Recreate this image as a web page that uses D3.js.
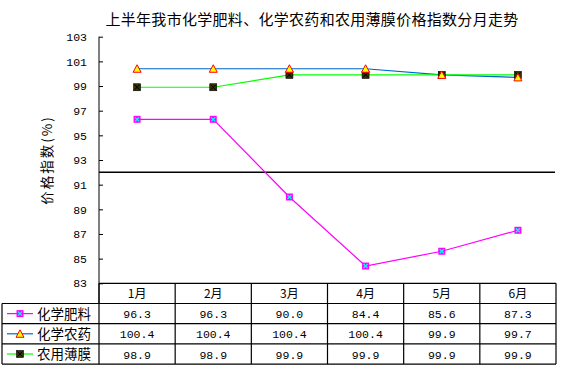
<!DOCTYPE html>
<html>
<head>
<meta charset="utf-8">
<script src="https://cdn.jsdelivr.net/npm/d3@7"></script>
<style>
  body { margin: 0; background: #fff; }
  svg { display: block; }
</style>
</head>
<body>
<svg class="svg"></svg>
<script>
const months = ['1月', '2月', '3月', '4月', '5月', '6月'];
const fertilizer = [96.3, 96.3, 90.0, 84.4, 85.6, 87.3];
const pesticide = [100.4, 100.4, 100.4, 100.4, 99.9, 99.7];
const film = [98.9, 98.9, 99.9, 99.9, 99.9, 99.9];
const seriesNames = ['化学肥料', '化学农药', '农用薄膜'];
const yTicks = [83, 85, 87, 89, 91, 93, 95, 97, 99, 101, 103];
const refValue = 92;

const chartW = 569;
const chartH = 372;
const cjk = '"Noto Sans CJK SC", sans-serif';
const num = '"Liberation Mono", "DejaVu Sans Mono", monospace';

const series = [
  { name: seriesNames[0], values: fertilizer, color: '#ff00ff', marker: 'square-x' },
  { name: seriesNames[1], values: pesticide, color: '#0066cc', marker: 'triangle' },
  { name: seriesNames[2], values: film, color: '#00ff00', marker: 'dark-square' }
];

const svg = d3.select('.svg').attr('width', chartW).attr('height', chartH);

const plotL = 99, plotR = 556, plotT = 36.7, plotB = 283.3;
const rowH = 20.2;
const tableTop = plotB;

const x = d3.scaleBand().domain(months).range([plotL, plotR]);
const y = d3.scaleLinear().domain([83, 103]).range([plotB, plotT]);

// title
svg.append('text')
  .attr('x', 312)
  .attr('y', 25)
  .attr('text-anchor', 'middle')
  .attr('font-family', cjk)
  .attr('font-size', 15)
  .attr('letter-spacing', 0.3)
  .attr('fill', '#000')
  .text('上半年我市化学肥料、化学农药和农用薄膜价格指数分月走势');

// y label
svg.append('text')
  .attr('transform', `translate(52,${(plotT + plotB) / 2}) rotate(-90)`)
  .attr('text-anchor', 'middle')
  .attr('font-family', cjk)
  .attr('font-size', 13.5)
  .attr('letter-spacing', 2)
  .text('价格指数(%)');

// y axis
const yAxis = d3.axisLeft(y).tickValues(yTicks).tickSize(-4).tickPadding(12).tickFormat(d3.format('d'));
const yg = svg.append('g').attr('transform', `translate(${plotL},0)`).call(yAxis);
yg.select('.domain').remove();
yg.selectAll('line').attr('stroke', '#000');
yg.selectAll('text').attr('font-family', num).attr('font-size', 11.5).attr('fill', '#000');

svg.append('line')
  .attr('x1', plotL).attr('x2', plotL)
  .attr('y1', plotT).attr('y2', tableTop + rowH)
  .attr('stroke', '#000');

// reference line
svg.append('line')
  .attr('x1', plotL).attr('x2', plotR - 1)
  .attr('y1', y(refValue)).attr('y2', y(refValue))
  .attr('stroke', '#000').attr('stroke-width', 1.5);

// lines
const line = d3.line()
  .x((d, i) => x(months[i]) + x.bandwidth() / 2)
  .y(d => y(d));

svg.append('g')
  .selectAll('path')
  .data(series)
  .join('path')
  .attr('d', d => line(d.values))
  .attr('fill', 'none')
  .attr('stroke', d => d.color)
  .attr('stroke-width', 1.2);

function drawMarker(g, type) {
  if (type === 'square-x') {
    g.append('rect').attr('x', -3.5).attr('y', -3.5).attr('width', 7).attr('height', 7)
      .attr('fill', '#ff00ff');
    g.append('path').attr('d', 'M-2,-2L2,2M2,-2L-2,2').attr('stroke', '#00ffff').attr('stroke-width', 1.2);
  } else if (type === 'triangle') {
    g.append('path').attr('d', 'M0,-4L4,3.5L-4,3.5Z')
      .attr('fill', '#ffff00').attr('stroke', '#ff0000').attr('stroke-width', 1);
  } else {
    g.append('rect').attr('x', -3.5).attr('y', -3.5).attr('width', 7).attr('height', 7)
      .attr('fill', '#333300').attr('stroke', '#000').attr('stroke-width', 0.6);
    g.append('path').attr('d', 'M-2.5,-2.5L2.5,2.5M2.5,-2.5L-2.5,2.5').attr('stroke', '#000').attr('stroke-width', 1);
  }
}

// markers (triangles drawn last, they sit on top in the reference)
[series[0], series[2], series[1]].forEach(s => {
  svg.append('g')
    .selectAll('g')
    .data(s.values)
    .join('g')
    .attr('transform', (d, i) => `translate(${x(months[i]) + x.bandwidth() / 2},${y(d)})`)
    .each(function () { drawMarker(d3.select(this), s.marker); });
});

// data table
const table = svg.append('g').attr('stroke', '#000').attr('stroke-width', 1.2);
table.append('line').attr('x1', plotL).attr('x2', plotR).attr('y1', tableTop).attr('y2', tableTop);
[1, 2, 3, 4].forEach(r => {
  table.append('line').attr('x1', 2).attr('x2', plotR)
    .attr('y1', tableTop + r * rowH).attr('y2', tableTop + r * rowH);
});
months.forEach(m => {
  table.append('line').attr('x1', x(m) + x.bandwidth()).attr('x2', x(m) + x.bandwidth())
    .attr('y1', tableTop).attr('y2', tableTop + 4 * rowH);
});
table.append('line').attr('x1', plotL).attr('x2', plotL)
  .attr('y1', tableTop).attr('y2', tableTop + 4 * rowH);
table.append('line').attr('x1', 2).attr('x2', 2)
  .attr('y1', tableTop + rowH).attr('y2', tableTop + 4 * rowH);

// header
svg.append('g')
  .selectAll('text')
  .data(months)
  .join('text')
  .attr('x', d => x(d) + x.bandwidth() / 2)
  .attr('y', tableTop + rowH / 2 + 4.5)
  .attr('text-anchor', 'middle')
  .attr('font-family', cjk)
  .attr('font-size', 12)
  .text(d => d);

// rows
series.forEach((s, r) => {
  const cy = tableTop + (r + 1) * rowH + rowH / 2;
  svg.append('line')
    .attr('x1', 7).attr('x2', 33).attr('y1', cy).attr('y2', cy)
    .attr('stroke', s.color).attr('stroke-width', 1.2);
  drawMarker(svg.append('g').attr('transform', `translate(20,${cy})`), s.marker);
  svg.append('text')
    .attr('x', 37).attr('y', cy + 5)
    .attr('font-family', cjk)
    .attr('font-size', 13.5)
    .text(s.name);
  svg.append('g')
    .selectAll('text')
    .data(s.values)
    .join('text')
    .attr('x', (d, i) => x(months[i]) + x.bandwidth() / 2)
    .attr('y', cy + 4.5)
    .attr('text-anchor', 'middle')
    .attr('font-family', num)
    .attr('font-size', 11.5)
    .text(d => d.toFixed(1));
});
</script>
</body>
</html>
